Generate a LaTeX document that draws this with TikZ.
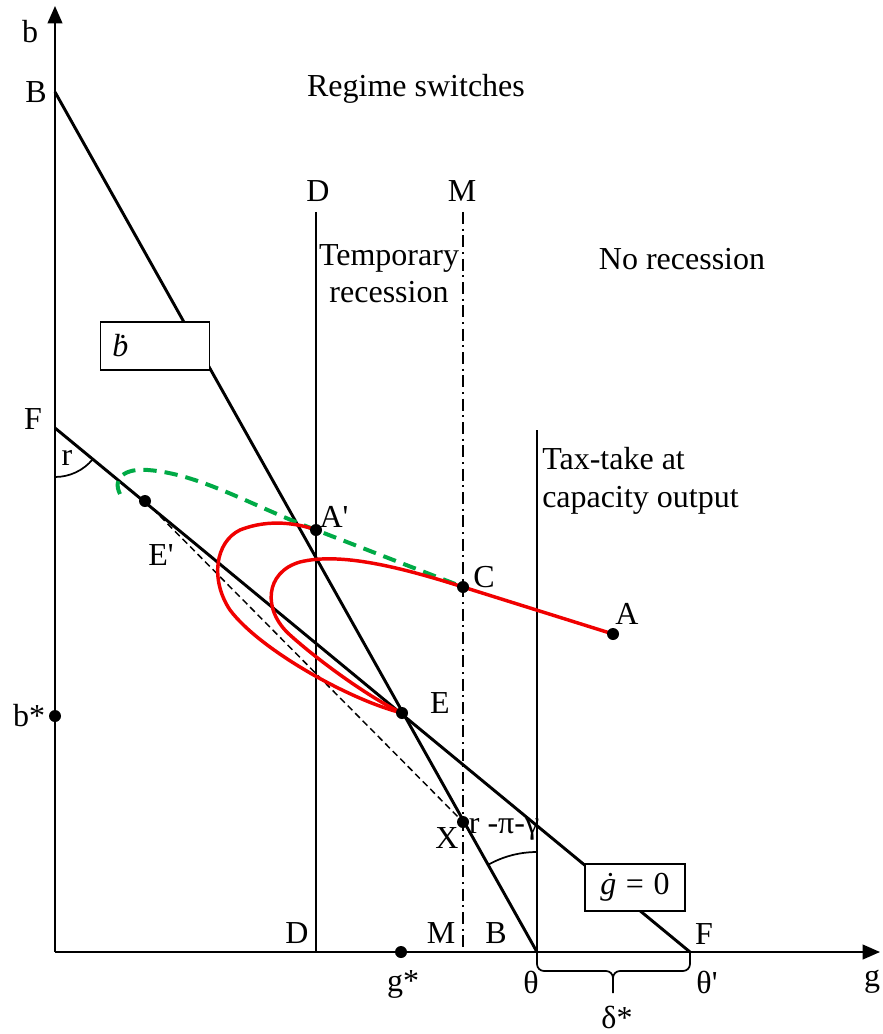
\documentclass[tikz,border=0pt]{standalone}
\usepackage{fontspec}
\setmainfont{Liberation Serif}[Ligatures=TeXOff]
\usetikzlibrary{arrows.meta}
\begin{document}
\begin{tikzpicture}[x=0.75pt,y=-0.75pt,
  lbl/.style={font=\fontsize{24}{28}\selectfont, inner sep=0pt},
  axisline/.style={line width=1.5pt,-{Triangle[length=13pt,width=11pt]}},
  mainline/.style={line width=2.2pt},
  thinline/.style={line width=1.5pt},
  redcurve/.style={line width=2.6pt,draw={rgb,255:red,240;green,0;blue,0}},
  greencurve/.style={line width=3pt,draw={rgb,255:red,0;green,170;blue,70},dash pattern=on 10pt off 6pt},
  dotpt/.style={circle,fill=black,inner sep=0pt,minimum size=9pt},
  boxlbl/.style={draw,fill=white,line width=1.1pt,font=\fontsize{24}{28}\selectfont,inner sep=0pt}
]
\useasboundingbox (0,0) rectangle (882,1034);
% coordinates
\coordinate (O) at (55,952);
\coordinate (Ytop) at (55,6);
\coordinate (Xend) at (880,952);
\coordinate (Btop) at (55,92);
\coordinate (theta) at (537,952);
\coordinate (Ftop) at (55,428);
\coordinate (thetap) at (690,952);
\coordinate (Dtop) at (316,212);
\coordinate (Dbot) at (316,952);
\coordinate (Mtop) at (463,212);
\coordinate (Mbot) at (463,952);
\coordinate (Ttop) at (537,430);
\coordinate (rarc) at (55,477);
\coordinate (tarc) at (537,852);
% axes
\draw[axisline] (O) -- (Ytop);
\draw[axisline] (O) -- (Xend);
% verticals
\draw[thinline] (Dtop) -- (Dbot);
\draw[line width=1.3pt,dash pattern=on 9pt off 3.5pt on 1.5pt off 3.5pt] (Mtop) -- (Mbot);
\draw[thinline] (Ttop) -- (theta);
% main lines
\draw[mainline] (Btop) -- (theta);
\draw[mainline] (Ftop) -- (thetap);
% dashed E'-X
\node[dotpt] (Ep) at (145,501) {};
\node[dotpt] (X) at (463,822) {};
\draw[line width=1.1pt,dash pattern=on 5pt off 3pt] (Ep.center) -- (X.center);
% angle arcs
\draw[line width=1.3pt] (rarc) arc[start angle=-90,end angle=-39.5,radius=36.75pt];
\draw[line width=1.3pt] (tarc) arc[start angle=90,end angle=119.3,radius=75pt];
% green dashed
\draw[greencurve] (120,494) .. controls (112,478) and (125,468) .. (148,470) .. controls (200,474) and (250,505) .. (316,530) -- (463,587);
% red curves
\draw[redcurve] (613,634) -- (463,587) .. controls (400,567) and (340,552) .. (300,562) .. controls (265,572) and (262,610) .. (290,635) .. controls (320,662) and (370,698) .. (402,713);
\draw[redcurve] (316,530) .. controls (300,524) and (270,518) .. (240,530) .. controls (215,542) and (210,580) .. (230,610) .. controls (260,650) and (350,700) .. (402,713);
% points
\node[dotpt] (Ap) at (316,530) {};
\node[dotpt] (C) at (463,587) {};
\node[dotpt] (A) at (613,634) {};
\node[dotpt] (E) at (402,713) {};
\node[dotpt] (bstar) at (55,716) {};
\node[dotpt] (gstar) at (401,952) {};
% boxes
\node[boxlbl,minimum width=82pt,minimum height=36pt,text width=64pt,align=left] (bdot) at (155,346) {\textit{ḃ}};
\node[boxlbl,minimum width=75pt,minimum height=35pt] (gdot) at (635,887.5) {\textit{ġ}\hspace{0.3em}=\hspace{0.3em}0};
% brace
\draw[line width=1.3pt] (theta) -- (537,964) to[out=-90,in=180] (544,971) -- (606,971) to[out=0,in=90] (613,978) -- (613,993);
\draw[line width=1.3pt] (613,978) to[out=90,in=180] (620,971) -- (683,971) to[out=0,in=-90] (690,964) -- (thetap);
% labels
\node[lbl] (lb) at (30,32) {b};
\node[lbl] (lB) at (36,92) {B};
\node[lbl] (lF) at (33,419) {F};
\node[lbl] (lr) at (67,458) {r};
\node[lbl] (lEp) at (161,555) {E'};
\node[lbl] (lAp) at (334,517) {A'};
\node[lbl] (lC) at (484,577) {C};
\node[lbl] (lA) at (627,614) {A};
\node[lbl] (lE) at (440,703) {E};
\node[lbl] (lbs) at (29,716) {b*};
\node[lbl] (lX) at (447,838) {X};
\node[lbl] (lrpg) at (504,829) {r -π-γ};
\node[lbl] (lDt) at (318,191) {D};
\node[lbl] (lMt) at (462,191) {M};
\node[lbl] (lDb) at (297,933) {D};
\node[lbl] (lMb) at (441,933) {M};
\node[lbl] (lBb) at (496,933) {B};
\node[lbl] (lFb) at (704,934) {F};
\node[lbl] (lgs) at (403,984) {g*};
\node[lbl] (lth) at (531,982) {θ};
\node[lbl] (lthp) at (707,982) {θ'};
\node[lbl] (ld) at (617,1017) {δ*};
\node[lbl] (lg) at (872,982) {g};
\node[lbl] (lreg) at (416,89) {Regime switches};
\node[lbl] (lnorec) at (682,259) {No recession};
\node[lbl,align=center] (ltemp) at (389,274) {Temporary\\recession};
\node[lbl,align=left,anchor=west] (ltax) at (542,481) {Tax-take at\\capacity output};
\end{tikzpicture}
\end{document}
